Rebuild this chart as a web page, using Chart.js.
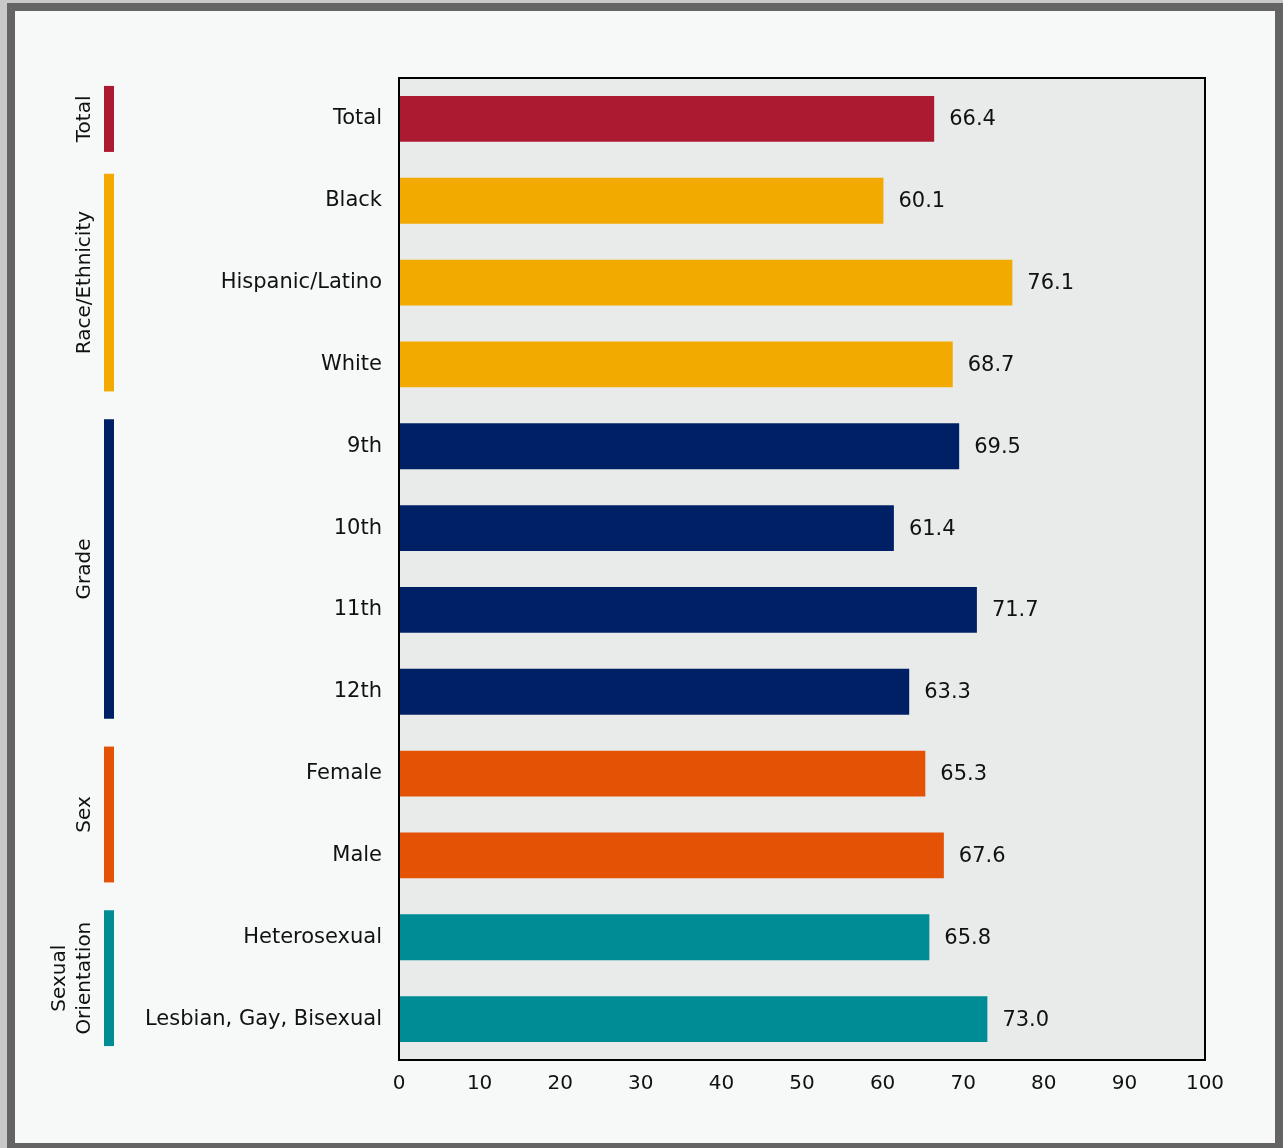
<!DOCTYPE html>
<html>
<head>
<meta charset="utf-8">
<script src="https://cdn.jsdelivr.net/npm/chart.js@4.4.1/dist/chart.umd.min.js"></script>
<style>
  body { margin: 0; background: #c8c8c8; overflow: hidden; }
  #frame {
    position: absolute; left: 7px; top: 3px;
    width: 1260px; height: 1132px;
    border: 8px solid #646464;
    background: #f7f9f8;
  }
  #chart { display: block; }
</style>
</head>
<body>
<div id="frame">
  <canvas id="chart" width="1260" height="1132"></canvas>
</div>
<script>
const categories = ['Total', 'Black', 'Hispanic/Latino', 'White', '9th', '10th', '11th', '12th',
  'Female', 'Male', 'Heterosexual', 'Lesbian, Gay, Bisexual'];
const values = [66.4, 60.1, 76.1, 68.7, 69.5, 61.4, 71.7, 63.3, 65.3, 67.6, 65.8, 73.0];

const groupLabels = [['Total'], ['Race/Ethnicity'], ['Grade'], ['Sex'], ['Sexual', 'Orientation']];
const groupFirst = [0, 1, 4, 8, 10];
const groupLast = [0, 3, 7, 9, 11];
const groupColors = ['#ab1a31', '#f2a900', '#002066', '#e35205', '#008c95'];

const xTicks = [0, 10, 20, 30, 40, 50, 60, 70, 80, 90, 100];

const FONT = '"DejaVu Sans", sans-serif';

// colour of each bar comes from its group
const barColors = categories.map((c, i) => {
  let g = 0;
  for (let k = 0; k < groupFirst.length; k++) {
    if (i >= groupFirst[k] && i <= groupLast[k]) g = k;
  }
  return groupColors[g];
});

const plotBox = {
  id: 'plotBox',
  beforeDatasetsDraw(chart) {
    const { ctx, chartArea: a } = chart;
    ctx.save();
    ctx.fillStyle = '#e9eaea';
    ctx.fillRect(a.left, a.top, a.right - a.left, a.bottom - a.top);
    ctx.restore();
  },
  afterDatasetsDraw(chart) {
    const { ctx, chartArea: a } = chart;
    ctx.save();
    ctx.strokeStyle = '#000';
    ctx.lineWidth = 2;
    ctx.strokeRect(a.left, a.top, a.right - a.left, a.bottom - a.top);

    // value labels
    ctx.fillStyle = '#111';
    ctx.font = '21px ' + FONT;
    ctx.textAlign = 'left';
    ctx.textBaseline = 'middle';
    chart.getDatasetMeta(0).data.forEach((bar, i) => {
      ctx.fillText(values[i].toFixed(1), bar.x + 15, bar.y + 1);
    });

    // group markers on the left
    const y = chart.scales.y;
    groupLabels.forEach((lines, g) => {
      const pad = groupFirst[g] === groupLast[g] ? 33 : 27;
      const top = y.getPixelForValue(groupFirst[g]) - pad;
      const bot = y.getPixelForValue(groupLast[g]) + pad;
      ctx.fillStyle = groupColors[g];
      ctx.fillRect(89, top, 10, bot - top);
      ctx.save();
      ctx.translate(70, (top + bot) / 2);
      ctx.rotate(-Math.PI / 2);
      ctx.fillStyle = '#111';
      ctx.textAlign = 'center';
      ctx.textBaseline = 'middle';
      ctx.font = '20px ' + FONT;
      lines.forEach((t, j) => {
        const off = (j - (lines.length - 1)) * 25;
        ctx.fillText(t, 0, off);
      });
      ctx.restore();
    });
    ctx.restore();
  }
};

new Chart(document.getElementById('chart'), {
  type: 'bar',
  data: {
    labels: categories,
    datasets: [{
      data: values,
      backgroundColor: barColors,
      barPercentage: 0.56,
      categoryPercentage: 1
    }]
  },
  options: {
    indexAxis: 'y',
    responsive: false,
    animation: false,
    layout: { padding: { top: 67, right: 70, left: 0, bottom: 0 } },
    plugins: { legend: { display: false }, tooltip: { enabled: false } },
    scales: {
      x: {
        min: 0,
        max: 100,
        afterBuildTicks(scale) { scale.ticks = xTicks.map(v => ({ value: v })); },
        afterFit(scale) { scale.height = 83; },
        grid: { display: false, drawTicks: false },
        border: { display: false },
        ticks: { color: '#111', padding: 12, font: { family: FONT, size: 20 } }
      },
      y: {
        afterFit(scale) { scale.width = 384; },
        grid: { display: false, drawTicks: false },
        border: { display: false },
        ticks: { color: '#111', padding: 17, font: { family: FONT, size: 21 } }
      }
    }
  },
  plugins: [plotBox]
});
</script>
</body>
</html>
